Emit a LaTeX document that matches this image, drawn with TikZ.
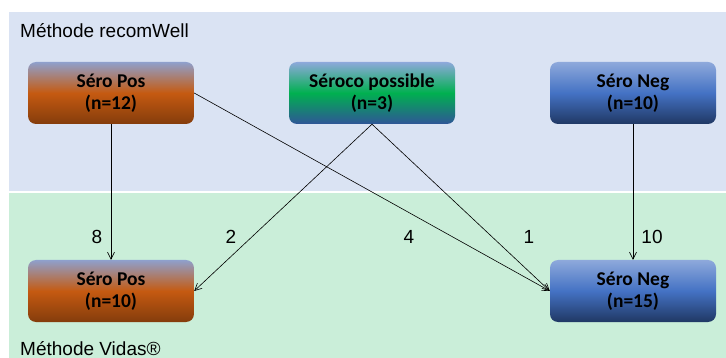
\documentclass[tikz,border=0pt]{standalone}
\usepackage{fontspec}
\setmainfont{Liberation Sans}
\newfontfamily\boxfont{Carlito}
\usetikzlibrary{positioning,arrows.meta}
\definecolor{bandblue}{HTML}{DAE3F3}
\definecolor{bandgreen}{HTML}{CAEED9}
\definecolor{posTopC}{HTML}{8FA0CC}
\definecolor{posMidC}{HTML}{C55A11}
\definecolor{posBotC}{HTML}{843C0C}
\definecolor{negTopC}{HTML}{8EA9DB}
\definecolor{negMidC}{HTML}{4472C4}
\definecolor{negBotC}{HTML}{203864}
\definecolor{sercTopC}{HTML}{8EA9DB}
\definecolor{sercMidC}{HTML}{00B050}
\definecolor{sercBotC}{HTML}{2F5597}

\begin{document}
\begin{tikzpicture}[
  x=1pt, y=-1pt,
  font=\fontsize{19}{22}\selectfont,
  >={Straight Barb[length=7pt,width=7pt]},
  grpbox/.style={rounded corners=8pt, minimum width=166pt, minimum height=62pt,
    inner sep=2pt, align=center, text=black,
    font=\boxfont\bfseries\fontsize{19.5}{22}\selectfont},
  posbox/.style={grpbox, top color=posTopC, bottom color=posBotC, middle color=posMidC},
  negbox/.style={grpbox, top color=negTopC, bottom color=negBotC, middle color=negMidC},
  sercbox/.style={grpbox, top color=sercTopC, bottom color=sercBotC, middle color=sercMidC},
  flow/.style={->, draw=black, line width=0.6pt},
  countlbl/.style={font=\fontsize{19}{20}\selectfont, inner sep=1pt}
]
  \useasboundingbox (0,0) rectangle (726,358);
  % bands
  \fill[bandblue] (9,12) rectangle (726,191);
  \fill[bandgreen] (9,193) rectangle (726,358);
  \node[anchor=base west, inner sep=0pt] (recomLbl) at (20,38) {Méthode recomWell};
  \node[anchor=base west, inner sep=0pt] (vidasLbl) at (20,355) {Méthode Vidas®};

  % groups
  \node[posbox] (posTop) at (111,93) {Séro Pos\\(n=12)};
  \node[sercbox] (serc) at (372,93) {Séroco possible\\(n=3)};
  \node[negbox] (negTop) at (633,93) {Séro Neg\\(n=10)};
  \node[posbox] (posBot) at (111,291) {Séro Pos\\(n=10)};
  \node[negbox] (negBot) at (633,291) {Séro Neg\\(n=15)};

  % flows
  \draw[flow] (posTop.south) -- (posBot.north);
  \draw[flow] (posTop.east) -- (negBot.west);
  \draw[flow] (serc.south) -- (posBot.east);
  \draw[flow] (serc.south) -- (negBot.west);
  \draw[flow] (negTop.south) -- (negBot.north);

  \node[countlbl] (nA) at (97,237) {8};
  \node[countlbl] (nB) at (231,237) {2};
  \node[countlbl] (nC) at (409,237) {4};
  \node[countlbl] (nD) at (529,237) {1};
  \node[countlbl] (nE) at (652,237) {10};
\end{tikzpicture}
\end{document}
